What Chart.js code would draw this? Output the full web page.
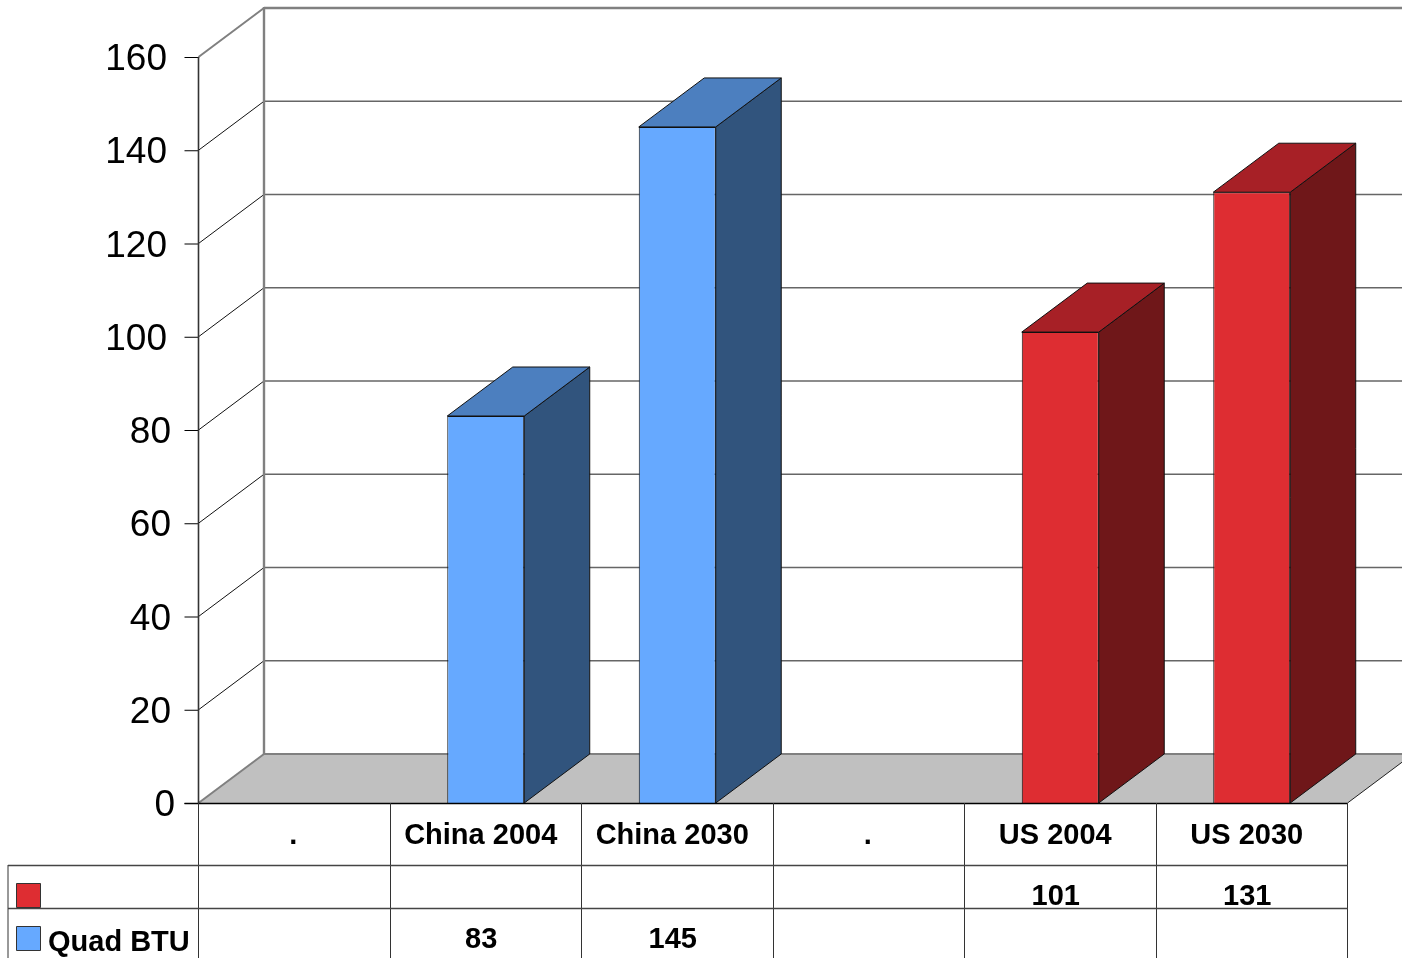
<!DOCTYPE html>
<html>
<head>
<meta charset="utf-8">
<title>Quad BTU</title>
<script src="https://cdn.jsdelivr.net/npm/chart.js@4"></script>
<style>
    html, body { margin: 0; padding: 0; background: #fff; overflow: hidden; }
    canvas { display: block; }
</style>
</head>
<body>
<canvas id="grafico" width="1402" height="958"></canvas>
<script>
var categorias = [".", "China 2004", "China 2030", ".", "US 2004", "US 2030"];
var valoresUS = [null, null, null, null, 101, 131];
var valoresQuad = [null, 83, 145, null, null, null];
var etiquetaUS = "";
var etiquetaQuad = "Quad BTU";
var marcasY = [0, 20, 40, 60, 80, 100, 120, 140, 160];

// Caras de cada serie: frente, tapa y lateral
var colorUS = { frente: "#de2d32", tapa: "#a72026", lado: "#6f1719" };
var colorQuad = { frente: "#66a9ff", tapa: "#4c7fbf", lado: "#31547d" };

// Desplazamiento de la profundidad 3D
var FONDO_X = 65.5;
var FONDO_Y = 49;
var FUENTE = '"Liberation Sans", Arial, sans-serif';

function poligono(ctx, puntos, relleno, borde, grosor) {
    ctx.beginPath();
    puntos.forEach(function (p, i) {
        if (i === 0) ctx.moveTo(p[0], p[1]);
        else ctx.lineTo(p[0], p[1]);
    });
    ctx.closePath();
    if (relleno) {
        ctx.fillStyle = relleno;
        ctx.fill();
    }
    if (borde) {
        ctx.strokeStyle = borde;
        ctx.lineWidth = grosor || 1;
        ctx.stroke();
    }
}

function linea(ctx, x1, y1, x2, y2, color, grosor) {
    ctx.beginPath();
    ctx.moveTo(x1, y1);
    ctx.lineTo(x2, y2);
    ctx.strokeStyle = color;
    ctx.lineWidth = grosor;
    ctx.stroke();
}

// Paredes, suelo y rejilla, por detras de las barras
var paredes = {
    id: "paredes",
    beforeDatasetsDraw: function (chart) {
        var ctx = chart.ctx;
        var area = chart.chartArea;
        var y = chart.scales.y;
        ctx.save();

        poligono(ctx, [
            [area.left, area.bottom],
            [area.left + FONDO_X, area.bottom - FONDO_Y],
            [area.right + FONDO_X, area.bottom - FONDO_Y],
            [area.right, area.bottom]
        ], "#c0c0c0");

        marcasY.forEach(function (v) {
            var py = y.getPixelForValue(v);
            if (v !== 0 && v !== 160) {
                linea(ctx, area.left + FONDO_X, py - FONDO_Y, area.right + FONDO_X, py - FONDO_Y, "#666666", 1.4);
                linea(ctx, area.left, py, area.left + FONDO_X, py - FONDO_Y, "#111111", 1);
            }
            linea(ctx, area.left - 14, py + 0.5, area.left, py + 0.5, "#000000", 1);
        });

        // Aristas grises del fondo
        linea(ctx, area.left + FONDO_X, area.top - FONDO_Y, area.right + FONDO_X, area.top - FONDO_Y, "#808080", 2.4);
        linea(ctx, area.left + FONDO_X, area.top - FONDO_Y - 1, area.left + FONDO_X, area.bottom - FONDO_Y, "#808080", 2.4);
        linea(ctx, area.left + FONDO_X, area.bottom - FONDO_Y, area.right + FONDO_X, area.bottom - FONDO_Y, "#808080", 2);
        linea(ctx, area.left, area.top, area.left + FONDO_X, area.top - FONDO_Y, "#808080", 2);
        linea(ctx, area.left, area.bottom, area.left + FONDO_X, area.bottom - FONDO_Y, "#808080", 2);
        linea(ctx, area.right, area.bottom, area.right + FONDO_X, area.bottom - FONDO_Y, "#222222", 1);

        ctx.restore();
    }
};

// Tapa y lateral de cada barra a partir del rectangulo que dibuja Chart.js
var caras3d = {
    id: "caras3d",
    afterDatasetsDraw: function (chart) {
        var ctx = chart.ctx;
        var colores = [colorUS, colorQuad];
        ctx.save();
        chart.data.datasets.forEach(function (ds, d) {
            chart.getDatasetMeta(d).data.forEach(function (barra, i) {
                if (ds.data[i] === null) return;
                var izq = barra.x - barra.width / 2;
                var der = barra.x + barra.width / 2;
                var arriba = barra.y;
                var base = barra.base;
                poligono(ctx, [
                    [der, arriba], [der + FONDO_X, arriba - FONDO_Y],
                    [der + FONDO_X, base - FONDO_Y], [der, base]
                ], colores[d].lado, "#111111", 1);
                poligono(ctx, [
                    [izq, arriba], [izq + FONDO_X, arriba - FONDO_Y],
                    [der + FONDO_X, arriba - FONDO_Y], [der, arriba]
                ], colores[d].tapa, "#111111", 1);
            });
        });
        ctx.restore();
    }
};

// Rotulos del eje Y y tabla de datos bajo el grafico
var tabla = {
    id: "tabla",
    afterDraw: function (chart) {
        var ctx = chart.ctx;
        var area = chart.chartArea;
        var x = chart.scales.x;
        var y = chart.scales.y;
        var bordes = categorias.map(function (c, i) {
            return i === 0 ? area.left : (x.getPixelForTick(i - 1) + x.getPixelForTick(i)) / 2;
        });
        bordes.push(area.right);
        var filaUS = 865;
        var filaQuad = 908;
        var alto = chart.height;
        ctx.save();

        linea(ctx, area.left - 14, area.bottom + 0.5, area.right, area.bottom + 0.5, "#000000", 1.4);
        linea(ctx, area.left, area.top, area.left, area.bottom, "#333333", 1.6);
        bordes.forEach(function (b) {
            linea(ctx, Math.floor(b) + 0.5, area.bottom, Math.floor(b) + 0.5, alto, "#333333", 1);
        });
        linea(ctx, 8, filaUS, 8, alto, "#333333", 1);
        linea(ctx, 8, filaUS + 0.5, area.right, filaUS + 0.5, "#444444", 1.4);
        linea(ctx, 8, filaQuad + 0.5, area.right, filaQuad + 0.5, "#444444", 1.4);

        poligono(ctx, [[16.5, 883.5], [40.5, 883.5], [40.5, 907.5], [16.5, 907.5]], colorUS.frente, "#333333", 1);
        poligono(ctx, [[16.5, 926.5], [40.5, 926.5], [40.5, 950.5], [16.5, 950.5]], colorQuad.frente, "#333333", 1);

        ctx.fillStyle = "#000000";
        ctx.textBaseline = "alphabetic";
        ctx.font = "bold 29px " + FUENTE;
        ctx.textAlign = "left";
        ctx.fillText(etiquetaUS, 48, 906);
        ctx.fillText(etiquetaQuad, 48, 951);

        ctx.textAlign = "center";
        categorias.forEach(function (c, i) {
            var cx = x.getPixelForTick(i) - 4.5;
            if (valoresUS[i] !== null) ctx.fillText(String(valoresUS[i]), cx, 905);
            if (valoresQuad[i] !== null) ctx.fillText(String(valoresQuad[i]), cx, 948);
        });

        ctx.font = "37px " + FUENTE;
        ctx.textAlign = "right";
        ctx.textBaseline = "middle";
        y.ticks.forEach(function (t) {
            var texto = String(t.value);
            var der = texto.length === 3 ? 167 : (texto.length === 2 ? 171 : 175);
            ctx.fillText(texto, der, y.getPixelForValue(t.value) + 3);
        });
        ctx.restore();
    }
};

new Chart(document.getElementById("grafico"), {
    type: "bar",
    data: {
        labels: categorias,
        datasets: [
            {
                label: etiquetaUS,
                data: valoresUS,
                backgroundColor: colorUS.frente,
                borderColor: "#111111",
                borderWidth: 1,
                grouped: false,
                categoryPercentage: 1,
                barPercentage: 0.402
            },
            {
                label: etiquetaQuad,
                data: valoresQuad,
                backgroundColor: colorQuad.frente,
                borderColor: "#111111",
                borderWidth: 1,
                grouped: false,
                categoryPercentage: 1,
                barPercentage: 0.402
            }
        ]
    },
    options: {
        responsive: false,
        animation: false,
        layout: { padding: { top: 57, right: 54.5, left: 0, bottom: 0 } },
        plugins: {
            legend: { display: false },
            tooltip: { enabled: false }
        },
        scales: {
            x: {
                afterFit: function (s) { s.height = 155; },
                grid: { display: false, drawTicks: false },
                border: { display: false },
                ticks: {
                    autoSkip: false,
                    maxRotation: 0,
                    padding: 16,
                    labelOffset: -1,
                    color: "#000000",
                    font: { family: FUENTE, size: 29, weight: "bold" },
                    // el espacio final corre los rotulos largos hacia la izquierda
                    callback: function (v) {
                        var texto = categorias[v];
                        return texto.length > 1 ? texto + " " : texto;
                    }
                }
            },
            y: {
                min: 0,
                max: 160,
                afterFit: function (s) { s.width = 198.5; },
                afterBuildTicks: function (s) {
                    s.ticks = marcasY.map(function (v) { return { value: v }; });
                },
                grid: { display: false, drawTicks: false },
                border: { display: false },
                ticks: { display: false }
            }
        }
    },
    plugins: [paredes, caras3d, tabla]
});
</script>
</body>
</html>
